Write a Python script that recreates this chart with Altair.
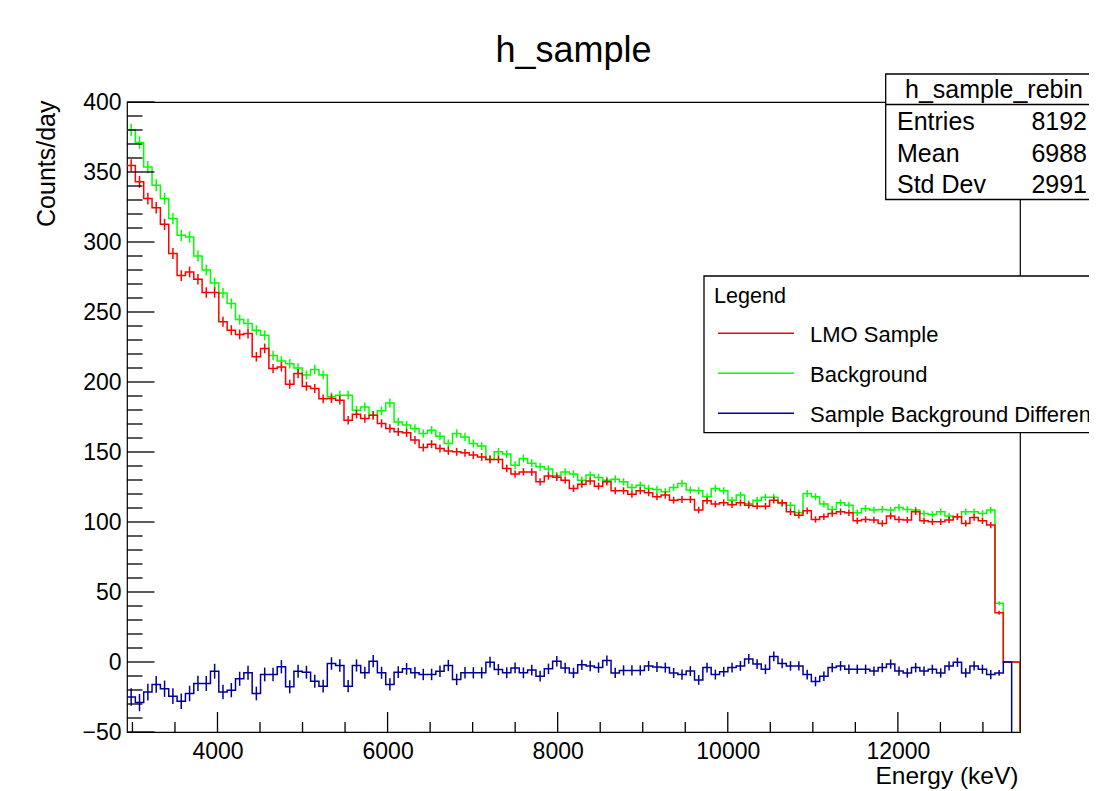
import altair as alt
import pandas as pd
import numpy as np

# ---------------- data ----------------
title_text = "h_sample"
x_title = "Energy (keV)"
y_title = "Counts/day"

X_MIN, X_MAX, N_BINS = 2936.0, 13436.0, 107
Y_MIN, Y_MAX = -50, 400

sample = [354.7, 343, 331, 324.5, 312.6, 291.7, 276, 278.6, 273.4, 263.9,
          263.9, 243, 237, 234, 234.6, 218, 224, 209.6, 210.8, 198.4,
          206, 197, 195.3, 188, 188.2, 187, 172.7, 177, 174, 176.3,
          170.4, 166.8, 164.4, 163.7, 158.5, 153.2, 155.6, 152.5, 150.8, 150.1,
          149.4, 147.8, 146.5, 144.7, 144.7, 138.3, 134.2, 135.8, 135.8, 128.7,
          132.8, 132, 129.9, 124, 127, 129.2, 125.6, 128.7, 122.3, 122.3,
          119.9, 122.3, 120.9, 118, 119.2, 115.6, 116.1, 116.1, 108.5, 115.1,
          112.8, 113.7, 112.4, 113.7, 112, 111.3, 111.3, 115.6, 113.7, 107.3,
          104.9, 108, 101.8, 103.7, 106.1, 107.3, 106.6, 100.9, 101.8, 101.4,
          99, 104.2, 101.8, 101.4, 107.3, 100.9, 100.1, 100.1, 101.4, 103.7,
          99, 103.3, 100.9, 97.8, 35.2, 0, 0]

background = [380, 371, 353.5, 340.5, 331, 316.7, 304.8, 303.6, 290, 280,
              270.7, 263.6, 256, 244.6, 241.7, 237, 233.4, 219, 215, 213,
              210, 205, 209, 205, 189.4, 190.6, 190.6, 179.9, 182.2, 176.3,
              179.4, 185, 171.5, 169.2, 166.8, 163.2, 165.6, 161.3, 156.1, 163.2,
              160.8, 156.1, 154.2, 144.7, 150.1, 148.5, 140.6, 145.4, 142, 139.4,
              137.8, 133, 135.8, 134.2, 129.9, 133.5, 131.8, 129.9, 130.6, 128.7,
              124.7, 126.3, 124, 123.3, 121.6, 124.7, 127.5, 122.8, 122.3, 118,
              124, 122.3, 115.6, 119.2, 113, 115.6, 117.6, 117.6, 113.3, 112,
              106.6, 120.4, 118, 112.8, 109, 113.7, 112, 106.6, 109.7, 108.5,
              109, 108.5, 110.4, 109, 108.5, 106.1, 105.4, 107.3, 104.2, 103.7,
              107.3, 107.3, 106.1, 108.5, 41.9, 0, 0]

difference = [-25, -29, -21.5, -16, -19.1, -24.4, -28, -22.5, -15.3, -15.3,
              -6.6, -21.5, -20.1, -12, -7.7, -22.5, -8.9, -8.9, -3.4, -17.7,
              -6.6, -7.3, -13.7, -17.3, -1.1, -2.5, -17.3, -2.5, -7.7, 0.6,
              -7.7, -16, -7.3, -4.9, -7.7, -8.9, -8.9, -6.6, -2.5, -12.5,
              -7.7, -7.7, -7.7, -0.1, -5.4, -7.7, -4.2, -7.7, -5.8, -10.1,
              -4.9, 0.6, -4.2, -7.8, -2, -2.8, -4, 1, -7.8, -6,
              -6, -6, -2.8, -3.5, -4, -7.8, -9, -6.5, -12.8, -4,
              -9, -7, -4, -2.8, 2.2, -1.5, -5.2, 4, -1, -2.8,
              -2.8, -9, -14, -10.2, -4, -2.8, -5.2, -5.2, -5.2, -6.5,
              -4, -1.5, -6.5, -7.8, -4, -6.5, -5.2, -7.8, -2.8, -0.2,
              -7.8, -2.8, -5.2, -9, -7.8, 0]

series_names = ["LMO Sample", "Background", "Sample Background Difference"]
series_colors = ["#ff0000", "#00ff00", "#000099"]

x_major = [4000, 6000, 8000, 10000, 12000]
x_minor = [3000, 3500, 4500, 5000, 5500, 6500, 7000, 7500, 8500, 9000,
           9500, 10500, 11000, 11500, 12500, 13000]
y_major = [-50, 0, 50, 100, 150, 200, 250, 300, 350, 400]
y_minor = [v for v in range(-40, 400, 10) if v % 50 != 0]

stats_title = "h_sample_rebin"
stats_names = ["Entries", "Mean", "Std Dev"]
stats_values = ["8192", "6988", "2991"]
legend_title = "Legend"

ERR_SCALE = 0.23  # Poisson error per sqrt(counts/day)

# ---------------- tables ----------------
bw = (X_MAX - X_MIN) / N_BINS


def edge(k):
    return X_MIN + k * bw


def step_frame(name, vals):
    xs_, ys_ = [], []
    for k, v in enumerate(vals):
        xs_.append(edge(k))
        ys_.append(v)
    n = len(vals)
    xs_ += [edge(n), edge(n)]
    ys_ += [vals[-1], Y_MIN]
    return pd.DataFrame({"series": name, "x": xs_, "y": ys_, "o": list(range(len(xs_)))})


def err_frame(name, vals, errs):
    rows = [(name, edge(k) + bw / 2, v - e, v + e)
            for k, (v, e) in enumerate(zip(vals, errs)) if e > 0]
    return pd.DataFrame(rows, columns=["series", "xc", "lo", "hi"])


err_s = [ERR_SCALE * np.sqrt(v) for v in sample]
err_b = [ERR_SCALE * np.sqrt(v) for v in background]
err_d = [ERR_SCALE * np.sqrt(s + b) for s, b in zip(sample, background)][:len(difference)]

series = {
    "LMO Sample": (sample, err_s),
    "Background": (background, err_b),
    "Sample Background Difference": (difference, err_d),
}

# ---------------- chart ----------------
FONT = "Liberation Sans"
W_PLOT, H_PLOT = 893, 630

xs = alt.Scale(domain=[X_MIN, X_MAX], nice=False, zero=False)
ys = alt.Scale(domain=[Y_MIN, Y_MAX], nice=False, zero=False)

x_axis = alt.Axis(values=x_major, title=x_title, ticks=False, tickSize=0, domain=False,
                  grid=False, labelFontSize=23, labelPadding=8, labelFont=FONT,
                  labelColor="black", labelFlush=False, labelOverlap=False, format="d",
                  titleFont=FONT, titleFontSize=24.5, titleFontWeight="normal",
                  titleColor="black", titleAnchor="end", titleAlign="right",
                  titleBaseline="alphabetic", titleX=W_PLOT - 2, titleY=51)
y_axis = alt.Axis(values=y_major, title=y_title, ticks=False, tickSize=0, domain=False,
                  grid=False, labelFontSize=23, labelPadding=6, labelFont=FONT,
                  labelColor="black", labelFlush=False, labelOverlap=False, format="d",
                  titleFont=FONT, titleFontSize=25, titleFontWeight="normal",
                  titleColor="black", titleAngle=270, titleAlign="right",
                  titleBaseline="alphabetic", titleX=-73, titleY=-2)

layers = []
draw_order = ["Background", "LMO Sample", "Sample Background Difference"]
for name in draw_order:
    vals, errs = series[name]
    col = series_colors[series_names.index(name)]
    layers.append(
        alt.Chart(step_frame(name, vals)).mark_line(
            interpolate="step-after", color=col, strokeWidth=1.5, clip=True
        ).encode(
            x=alt.X("x:Q", scale=xs, axis=x_axis),
            y=alt.Y("y:Q", scale=ys, axis=y_axis),
            order=alt.Order("o:Q"),
        )
    )
    layers.append(
        alt.Chart(err_frame(name, vals, errs)).mark_rule(
            color=col, strokeWidth=1.5, clip=True
        ).encode(
            x=alt.X("xc:Q", scale=xs, axis=x_axis),
            y=alt.Y("lo:Q", scale=ys, axis=y_axis),
            y2="hi:Q",
        )
    )

# inward ticks (ROOT style)
tick_style = dict(color="black", strokeWidth=1.3)
layers.append(alt.Chart(pd.DataFrame({"v": x_major})).mark_rule(**tick_style).encode(
    x=alt.X("v:Q", scale=xs, axis=x_axis), y=alt.value(H_PLOT), y2=alt.value(H_PLOT - 20)))
layers.append(alt.Chart(pd.DataFrame({"v": x_minor})).mark_rule(**tick_style).encode(
    x=alt.X("v:Q", scale=xs, axis=x_axis), y=alt.value(H_PLOT), y2=alt.value(H_PLOT - 10)))
layers.append(alt.Chart(pd.DataFrame({"v": y_major})).mark_rule(**tick_style).encode(
    y=alt.Y("v:Q", scale=ys, axis=y_axis), x=alt.value(0), x2=alt.value(27.5)))
layers.append(alt.Chart(pd.DataFrame({"v": y_minor})).mark_rule(**tick_style).encode(
    y=alt.Y("v:Q", scale=ys, axis=y_axis), x=alt.value(0), x2=alt.value(15.5)))

# title
layers.append(alt.Chart(pd.DataFrame({"t": [title_text]})).mark_text(
    font=FONT, fontSize=36, color="black", align="center", baseline="alphabetic"
).encode(x=alt.value(W_PLOT / 2), y=alt.value(-40), text="t:N"))

# stats box
one = pd.DataFrame({"k": [0]})
box_style = dict(fill="white", stroke="black", strokeWidth=1.3)
layers.append(alt.Chart(one).mark_rect(**box_style).encode(
    x=alt.value(758.7), x2=alt.value(990), y=alt.value(-28), y2=alt.value(97.5)))
layers.append(alt.Chart(one).mark_rule(color="black", strokeWidth=1.3).encode(
    x=alt.value(758.7), x2=alt.value(990), y=alt.value(2.5)))
layers.append(alt.Chart(pd.DataFrame({"t": [stats_title]})).mark_text(
    font=FONT, fontSize=25, color="black", align="center", baseline="alphabetic"
).encode(x=alt.value(867), y=alt.value(-4), text="t:N"))
for i, (nm, val) in enumerate(zip(stats_names, stats_values)):
    yb = 28 + i * 31.7
    layers.append(alt.Chart(pd.DataFrame({"t": [nm]})).mark_text(
        font=FONT, fontSize=25, color="black", align="left", baseline="alphabetic"
    ).encode(x=alt.value(770), y=alt.value(yb), text="t:N"))
    layers.append(alt.Chart(pd.DataFrame({"t": [val]})).mark_text(
        font=FONT, fontSize=25, color="black", align="right", baseline="alphabetic"
    ).encode(x=alt.value(960), y=alt.value(yb), text="t:N"))

# legend box
layers.append(alt.Chart(one).mark_rect(**box_style).encode(
    x=alt.value(577), x2=alt.value(1000), y=alt.value(174), y2=alt.value(330.7)))
layers.append(alt.Chart(pd.DataFrame({"t": [legend_title]})).mark_text(
    font=FONT, fontSize=21.6, color="black", align="left", baseline="alphabetic"
).encode(x=alt.value(587), y=alt.value(201.3), text="t:N"))
for i, (nm, col) in enumerate(zip(series_names, series_colors)):
    ly = 231.3 + i * 40
    layers.append(alt.Chart(one).mark_rule(color=col, strokeWidth=1.5).encode(
        x=alt.value(591), x2=alt.value(667), y=alt.value(ly)))
    layers.append(alt.Chart(pd.DataFrame({"t": [nm]})).mark_text(
        font=FONT, fontSize=22, color="black", align="left", baseline="alphabetic"
    ).encode(x=alt.value(683), y=alt.value(ly + 8.4), text="t:N"))

chart = alt.layer(*layers).properties(
    width=W_PLOT, height=H_PLOT,
    autosize=alt.AutoSizeParams(type="none"),
    padding={"left": 119, "top": 94, "right": 69, "bottom": 59},
    background="white",
).configure_view(stroke="black", strokeWidth=1.2)

chart.save("out.html", embed_options={"renderer": "svg", "actions": False})
